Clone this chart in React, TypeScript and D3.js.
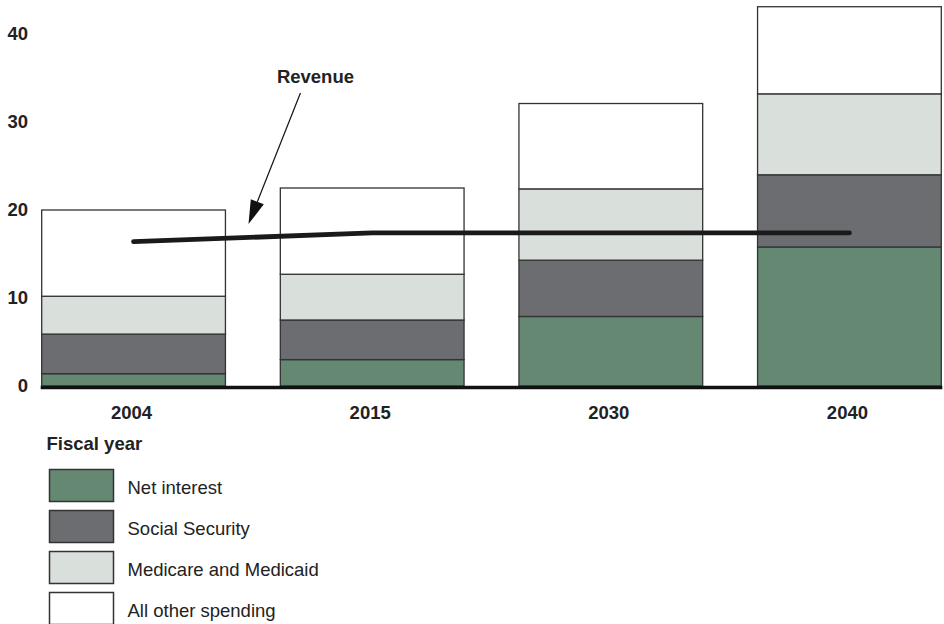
import React, { useEffect, useRef } from "react";
import * as d3 from "d3";

// fiscal years and spending shares (% of GDP)
const years = ["2004", "2015", "2030", "2040"];
const netInterest = [1.4, 3.0, 7.9, 15.8];
const socialSecurity = [4.5, 4.5, 6.4, 8.2];
const medicare = [4.3, 5.2, 8.1, 9.2];
const allOther = [9.8, 9.8, 9.7, 9.9];
const revenue = [16.4, 17.4, 17.4, 17.4];
const yTicks = [0, 10, 20, 30, 40];

const seriesNames = ["Net interest", "Social Security", "Medicare and Medicaid", "All other spending"];
const seriesKeys = ["net", "ss", "med", "other"];
const seriesColors = ["#648872", "#6c6d71", "#d9dfdb", "#ffffff"];

const FONT = "'Liberation Sans', Arial, Helvetica, sans-serif";

const App: React.FC = () => {
  const svgRef = useRef<SVGSVGElement | null>(null);

  useEffect(() => {
    const width = 944;
    const height = 624;
    const svg = d3.select(svgRef.current).attr("width", width).attr("height", height);
    svg.selectAll("*").remove();

    const rows = years.map((yr, i) => ({
      year: yr,
      net: netInterest[i],
      ss: socialSecurity[i],
      med: medicare[i],
      other: allOther[i],
    }));

    const x = d3.scaleBand<string>().domain(years).range([41.7, 941.3]).paddingInner(0.23).paddingOuter(0);
    const y = d3.scaleLinear().domain([0, 40]).range([386, 34]);

    const stack = d3.stack<any>().keys(seriesKeys);
    const layers = stack(rows);

    // bars
    layers.forEach((layer, li) => {
      svg
        .append("g")
        .selectAll("rect")
        .data(layer)
        .enter()
        .append("rect")
        .attr("x", (d: any) => x(d.data.year)!)
        .attr("width", x.bandwidth())
        .attr("y", (d) => y(d[1]))
        .attr("height", (d) => y(d[0]) - y(d[1]))
        .attr("fill", seriesColors[li])
        .attr("stroke", "#333")
        .attr("stroke-width", 1.3);
    });

    // baseline
    const [r0, r1] = x.range();
    svg
      .append("line")
      .attr("x1", r0 - 1)
      .attr("x2", r1 + 1)
      .attr("y1", y(0) + 1.5)
      .attr("y2", y(0) + 1.5)
      .attr("stroke", "#111")
      .attr("stroke-width", 3.5);

    // y tick labels
    svg
      .append("g")
      .selectAll("text")
      .data(yTicks)
      .enter()
      .append("text")
      .attr("x", 28)
      .attr("y", (d) => y(d) + 5.8)
      .attr("text-anchor", "end")
      .attr("font-family", FONT)
      .attr("font-weight", "bold")
      .attr("font-size", 18.5)
      .attr("fill", "#222")
      .text((d) => String(d));

    // x tick labels
    svg
      .append("g")
      .selectAll("text")
      .data(years)
      .enter()
      .append("text")
      .attr("x", (d) => x(d)! + x.bandwidth() / 2 - 2)
      .attr("y", y(0) + 32.5)
      .attr("text-anchor", "middle")
      .attr("font-family", FONT)
      .attr("font-weight", "bold")
      .attr("font-size", 18.5)
      .attr("fill", "#222")
      .text((d) => d);

    // revenue line
    const line = d3
      .line<number>()
      .x((_, i) => x(years[i])! + x.bandwidth() / 2)
      .y((d) => y(d));
    svg
      .append("path")
      .attr("d", line(revenue)!)
      .attr("fill", "none")
      .attr("stroke", "#1a1a1a")
      .attr("stroke-width", 4.8)
      .attr("stroke-linecap", "round")
      .attr("stroke-linejoin", "round");

    // revenue annotation
    const gapStart = x(years[0])! + x.bandwidth();
    const gap = x(years[1])! - gapStart;
    const tip = { x: gapStart + gap * 0.42, y: y(18.4) };
    const tail = { x: gapStart + 75, y: y(33.3) };
    svg
      .append("text")
      .attr("x", tail.x + 15)
      .attr("y", y(34.4))
      .attr("text-anchor", "middle")
      .attr("font-family", FONT)
      .attr("font-weight", "bold")
      .attr("font-size", 18.5)
      .attr("fill", "#222")
      .text("Revenue");
    const dx = tip.x - tail.x;
    const dy = tip.y - tail.y;
    const len = Math.hypot(dx, dy);
    const ux = dx / len;
    const uy = dy / len;
    const headLen = 24;
    const headHalf = 7;
    const bx = tip.x - ux * headLen;
    const by = tip.y - uy * headLen;
    svg
      .append("line")
      .attr("x1", tail.x)
      .attr("y1", tail.y)
      .attr("x2", bx)
      .attr("y2", by)
      .attr("stroke", "#111")
      .attr("stroke-width", 1.2);
    svg
      .append("path")
      .attr(
        "d",
        `M${tip.x},${tip.y}L${bx - uy * headHalf},${by + ux * headHalf}L${bx + uy * headHalf},${by - ux * headHalf}Z`
      )
      .attr("fill", "#111");

    // legend
    svg
      .append("text")
      .attr("x", 46.5)
      .attr("y", 450)
      .attr("font-family", FONT)
      .attr("font-weight", "bold")
      .attr("font-size", 18.5)
      .attr("fill", "#222")
      .text("Fiscal year");

    const legend = svg
      .append("g")
      .selectAll("g")
      .data(seriesNames)
      .enter()
      .append("g")
      .attr("transform", (_, i) => `translate(49.5, ${469.5 + i * 41})`);
    legend
      .append("rect")
      .attr("width", 64)
      .attr("height", 32)
      .attr("fill", (_, i) => seriesColors[i])
      .attr("stroke", "#333")
      .attr("stroke-width", 1.5);
    legend
      .append("text")
      .attr("x", 78)
      .attr("y", 24.5)
      .attr("font-family", FONT)
      .attr("font-size", 18.5)
      .attr("fill", "#222")
      .text((d) => d);
  }, []);

  return <svg ref={svgRef} style={{ position: "absolute", left: 0, top: 0 }} />;
};

export default App;
